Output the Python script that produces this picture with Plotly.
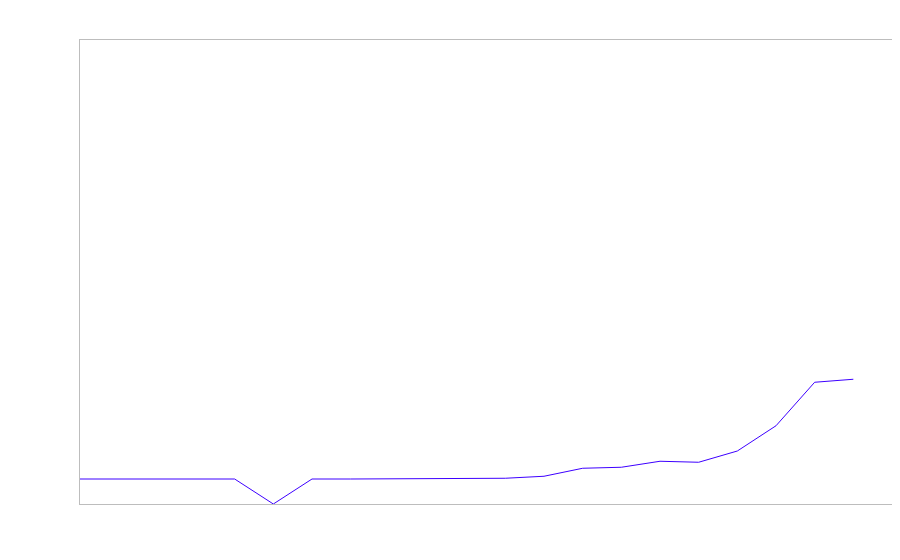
import plotly.graph_objects as go

x_index = list(range(21))
values = [0, 0, 0, 0, 0, -1, 0, 0, 0, 0, 0, 0.03, 0.11, 0.43, 0.47, 0.71, 0.67, 1.12, 2.13, 3.87, 3.99]

fig = go.Figure()
fig.add_trace(go.Scatter(x=x_index, y=values, mode="lines",
                         line=dict(color="#3d00ff", width=1), hoverinfo="skip"))

fig.update_layout(
    width=900, height=560,
    margin=dict(l=72, r=16, t=32, b=64),
    paper_bgcolor="white", plot_bgcolor="white",
    showlegend=False,
)
fig.update_xaxes(range=[0, 21], showgrid=False, zeroline=False, showticklabels=False,
                 ticks="", showline=True, linecolor="#bdbdbd", linewidth=1, mirror=True)
fig.update_yaxes(range=[-1, 17.56], showgrid=False, zeroline=False, showticklabels=False,
                 ticks="", showline=True, linecolor="#bdbdbd", linewidth=1, mirror=True)

fig.write_html("out.html")
